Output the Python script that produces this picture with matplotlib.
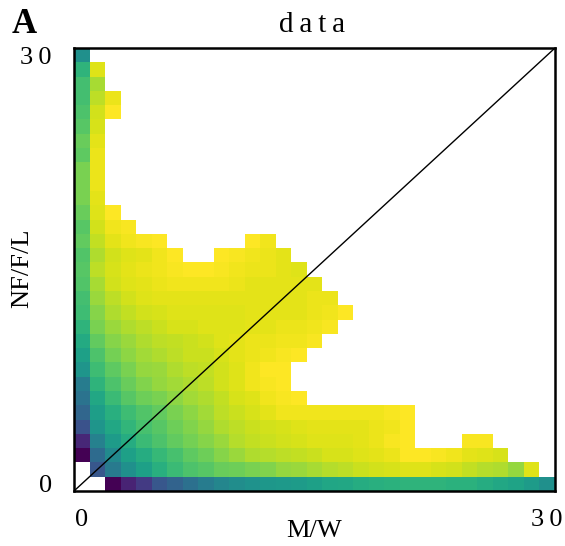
import numpy as np
import matplotlib
matplotlib.use('Agg')
import matplotlib.pyplot as plt

plt.rcParams['font.family'] = ['Liberation Serif']

N = 31
tick_values = [0, 30]
tick_labels = ['0', '3\u20090']

# rows listed from the top of the picture (y=30) to the bottom (y=0), None = empty cell
rows_top_down = [
    [.50],
    [.65, .95],
    [.70, .87],
    [.70, .90, .97],
    [.72, .93, 1.0],
    [.74, .94],
    [.77, .96],
    [.75, .97],
    [.80, .97],
    [.80, .97],
    [.80, .96],
    [.77, .95, 1.0],
    [.74, .93, .98, .99],
    [.76, .91, .96, .98, .99, 1.0, None, None, None, None, None, 1.0, .98],
    [.73, .88, .93, .95, .96, .98, 1.0, None, None, 1.0, .99, .98, .97, .96],
    [.74, .90, .94, .96, .97, .98, .99, 1.0, 1.0, .99, .98, .97, .97, .96, .95],
    [.73, .87, .93, .95, .96, .97, .98, .98, .98, .98, .97, .96, .96, .96, .96, .96],
    [.70, .85, .90, .93, .95, .96, .96, .96, .96, .96, .96, .96, .96, .96, .96, .97, .97],
    [.69, .82, .88, .91, .93, .94, .95, .95, .95, .95, .95, .96, .96, .96, .96, .97, .98, 1.0],
    [.65, .80, .85, .88, .90, .92, .94, .94, .95, .95, .95, .96, .96, .97, .97, .98, .99],
    [.61, .76, .82, .85, .88, .90, .91, .92, .93, .95, .96, .97, .97, .98, .98, .99],
    [.57, .72, .79, .83, .86, .88, .90, .92, .92, .94, .96, .97, .98, .99, 1.0],
    [.52, .69, .75, .80, .84, .85, .88, .90, .91, .93, .95, .98, 1.0, 1.0],
    [.42, .65, .72, .77, .81, .84, .86, .88, .90, .93, .95, .98, .99, 1.0],
    [.38, .60, .68, .74, .78, .80, .83, .86, .88, .91, .94, .95, .98, .99, 1.0],
    [.33, .56, .63, .69, .73, .76, .80, .83, .86, .90, .92, .94, .96, .98, .98, .98, .98, .98, .98, .98, .99, 1.0],
    [.25, .52, .60, .66, .71, .74, .78, .81, .84, .88, .90, .92, .93, .94, .95, .96, .96, .96, .96, .97, .98, 1.0],
    [.11, .44, .55, .62, .68, .72, .76, .79, .82, .85, .89, .91, .92, .93, .94, .95, .95, .95, .96, .97, .99, 1.0,
     None, None, None, .99, .99],
    [.00, .35, .48, .57, .62, .67, .71, .75, .78, .82, .85, .88, .89, .90, .91, .92, .94, .94, .95, .96, .97, 1.0,
     1.0, .99, .98, .96, .95, .94],
    [None, .27, .41, .50, .57, .63, .68, .72, .74, .77, .78, .80, .81, .84, .85, .87, .89, .90, .92, .93, .94, .95,
     .95, .94, .93, .91, .89, .88, .84, .95],
    [None, None, .00, .10, .17, .27, .32, .37, .42, .46, .49, .51, .53, .54, .55, .57, .59, .60, .62, .63, .64, .65,
     .65, .65, .64, .64, .62, .60, .58, .55, .50],
]

grid = np.full((N, N), np.nan)
for i, row in enumerate(rows_top_down):
    for j, v in enumerate(row):
        if v is not None:
            grid[N - 1 - i, j] = v

W, H = 565, 546
fig = plt.figure(figsize=(W / 100, H / 100), dpi=100)
ax = fig.add_axes([74 / W, 1 - 491 / H, 481 / W, 443 / H])

ax.imshow(grid, origin='lower', cmap='viridis', vmin=0, vmax=1, aspect='auto',
          interpolation='nearest', extent=(-0.5, N - 0.5, -0.5, N - 0.5))
ax.plot([-0.5, N - 0.5], [-0.5, N - 0.5], color='black', lw=1.0)
ax.set_xlim(-0.5, N - 0.5)
ax.set_ylim(-0.5, N - 0.5)

ax.set_xticks(tick_values)
ax.set_xticklabels(tick_labels, fontsize=19)
ax.set_yticks(tick_values)
ax.set_yticklabels(tick_labels, fontsize=19)
ax.tick_params(axis='x', length=0, pad=13)
ax.tick_params(axis='y', length=0, pad=16)
for s in ax.spines.values():
    s.set_linewidth(1.8)

fig.text(312 / W, 1 - 32 / H, 'd\u2009a\u2009t\u2009a', fontsize=21, ha='center', va='baseline')
fig.text(314 / W, 1 - 531 / H, 'M/W', fontsize=19, ha='center', va='center')
fig.text(22 / W, 1 - 268 / H, 'NF/F/L', fontsize=19, rotation=90, ha='center', va='center')
fig.text(12 / W, 1 - 33 / H, 'A', fontsize=25, fontweight='bold', ha='left', va='baseline')

fig.savefig('out.png', dpi=100)
